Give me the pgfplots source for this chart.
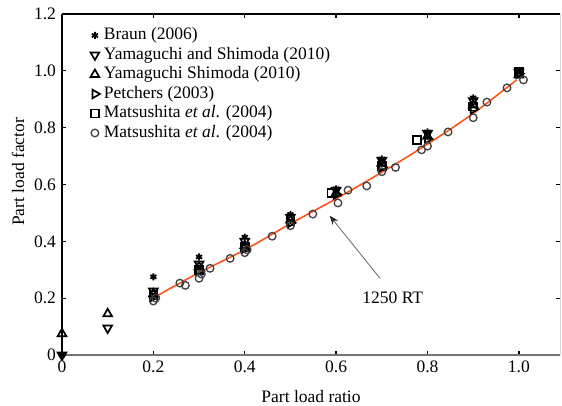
\documentclass[border=0pt]{standalone}
\usepackage{fontspec}
\setmainfont{Liberation Serif}
\usepackage{pgfplots}
\pgfplotsset{compat=1.18}
\usetikzlibrary{arrows.meta}
\definecolor{fitorange}{RGB}{255,85,25}
\begin{document}
\fontsize{17.5bp}{20bp}\selectfont
\begin{tikzpicture}
\begin{axis}[
  scale only axis,
  width=498bp, height=341bp,
  at={(0,0)}, anchor=south west,
  xmin=0, xmax=1.09, ymin=0, ymax=1.2,
  xtick={0,0.2,0.4,0.6,0.8,1.0},
  xticklabels={0,0.2,0.4,0.6,0.8,1.0},
  ytick={0,0.2,0.4,0.6,0.8,1.0,1.2},
  yticklabels={0,0.2,0.4,0.6,0.8,1.0,1.2},
  tick style={black, line width=1.3bp},
  major tick length=4bp,
  axis line style={draw=none},
  xlabel={Part load ratio},
  ylabel={Part load factor},
  xlabel style={yshift=-6bp},
  ylabel style={at={(rel axis cs:0,0.537)}, anchor=center, yshift=44bp},
  clip=false,
  legend cell align=left,
  legend style={draw=none, fill=none, at={(rel axis cs:0.051,0.972)}, anchor=north west,
    row sep=0pt, column sep=3bp, nodes={inner sep=1bp, text height=13bp, text depth=4.5bp}},
]
\draw[black, line width=2.6bp] (rel axis cs:0,0) -- (rel axis cs:0,1);
\draw[black, line width=2bp] (rel axis cs:0,1) -- (rel axis cs:1,1);
\draw[black!55, line width=2.6bp] (rel axis cs:0,0) -- (rel axis cs:1,0);
\draw[black!15, line width=0.6bp] (rel axis cs:1,0) -- (rel axis cs:1,1);

\addplot[fitorange, line width=1.6bp, smooth, forget plot] coordinates {
(0.21,0.21)(0.3,0.29)(0.4,0.37)(0.5,0.462)(0.6,0.55)(0.7,0.643)(0.8,0.742)(0.9,0.85)(0.995,0.968)};

\addplot[only marks, mark=asterisk, mark size=3.5bp, line width=1.8bp, black] coordinates {
(0,0)(0.2,0.275)(0.3,0.345)(0.4,0.415)(0.5,0.495)(0.6,0.585)(0.7,0.69)(0.8,0.785)(0.9,0.905)(1.0,1.0)};
\addlegendentry{Braun (2006)}

\addplot[only marks, mark=triangle, mark size=5bp, line width=1.7bp, black, mark options={rotate=180}] coordinates {
(0,0)(0.1,0.095)(0.2,0.225)(0.3,0.32)(0.4,0.40)(0.5,0.485)(0.6,0.58)(0.7,0.685)(0.8,0.78)(0.9,0.895)(1.0,0.995)};
\addlegendentry{Yamaguchi and Shimoda (2010)}

\addplot[only marks, mark=triangle, mark size=5bp, line width=1.7bp, black] coordinates {
(0,0.075)(0.1,0.145)(0.2,0.215)(0.3,0.31)(0.4,0.385)(0.5,0.475)(0.6,0.57)(0.7,0.675)(0.8,0.77)(0.9,0.88)(1.0,0.985)};
\addlegendentry{Yamaguchi Shimoda (2010)}

\addplot[only marks, mark=triangle, mark size=5bp, line width=1.7bp, black, mark options={rotate=-90}] coordinates {
(0.2,0.205)(0.3,0.295)(0.4,0.375)(0.5,0.465)(0.6,0.565)(0.7,0.66)(0.8,0.76)(0.9,0.865)(1.0,0.99)};
\addlegendentry{Petchers (2003)}

\addplot[only marks, mark=square, mark size=4bp, line width=1.7bp, black] coordinates {
(0.2,0.21)(0.3,0.30)(0.4,0.38)(0.5,0.47)(0.59,0.57)(0.7,0.665)(0.777,0.757)(0.9,0.875)(1.0,0.995)};
\addlegendentry{Matsushita \textit{et al}. (2004)}

\addplot[only marks, mark=o, mark size=3.8bp, line width=1.3bp, black!75] coordinates {
(0.2,0.19)(0.205,0.2)(0.258,0.253)(0.27,0.245)(0.3,0.27)(0.305,0.285)(0.324,0.305)(0.368,0.34)(0.4,0.36)(0.405,0.37)(0.46,0.418)(0.5,0.455)(0.549,0.496)(0.604,0.535)(0.626,0.58)(0.667,0.595)(0.7,0.645)(0.73,0.66)(0.787,0.722)(0.8,0.735)(0.845,0.785)(0.9,0.835)(0.93,0.89)(0.974,0.94)(1.01,0.968)};
\addlegendentry{Matsushita \textit{et al}. (2004)}

\draw[black!60, line width=0.8bp, -{Stealth[length=9bp, width=7bp, black!85]}] (axis cs:0.696,0.27) -- (axis cs:0.586,0.49);
\node[anchor=center] at (axis cs:0.724,0.20) {1250 RT};
\end{axis}
\pgfresetboundingbox
\useasboundingbox (-62bp,-51bp) rectangle (500bp,355bp);
\end{tikzpicture}
\end{document}
